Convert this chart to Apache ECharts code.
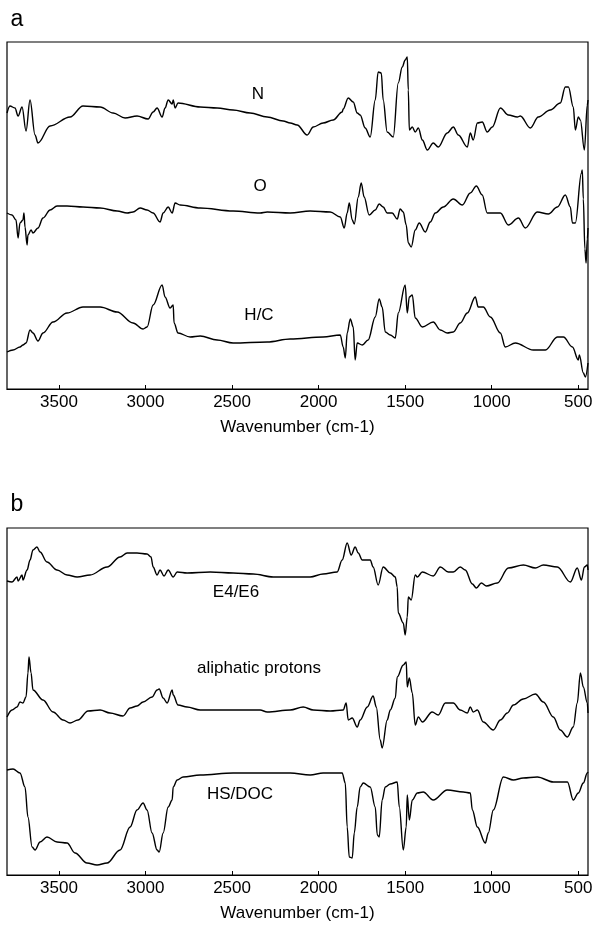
<!DOCTYPE html>
<html>
<head>
<meta charset="utf-8">
<title>FTIR spectra</title>
<script src="https://cdn.jsdelivr.net/npm/echarts@6/dist/echarts.min.js"></script>
<style>
  html, body { margin: 0; padding: 0; background: #fff; }
  #chart { width: 595px; height: 928px; }
</style>
</head>
<body>
<div id="chart"></div>
<script>
// tick labels on the wavenumber axis
const tickValues = [3500, 3000, 2500, 2000, 1500, 1000, 500]

// panel a, [wavenumber, intensity a.u.]
const nCurve = [[3800,276],[3783,283],[3754,281],[3736,273],[3713,282],[3690,258],[3667,289],[3638,254],[3621,246],[3551,263],[3436,272],[3361,283],[3262,282],[3187,276],[3118,271],[3049,273],[2985,270],[2956,277],[2933,281],[2904,272],[2887,281],[2869,289],[2846,285],[2840,289],[2829,281],[2812,286],[2684,282],[2586,281],[2494,279],[2395,276],[2297,272],[2205,268],[2164,266],[2124,264],[2066,254],[2031,262],[1974,266],[1916,269],[1864,277],[1858,280],[1829,291],[1800,287],[1777,276],[1760,274],[1731,261],[1702,252],[1673,289],[1656,317],[1638,316],[1627,289],[1604,257],[1569,252],[1540,306],[1517,322],[1500,329],[1488,332],[1482,299],[1476,259],[1459,262],[1442,257],[1424,261],[1401,249],[1372,239],[1338,246],[1309,242],[1257,256],[1222,262],[1193,254],[1141,242],[1124,256],[1107,249],[1083,266],[1055,267],[1026,257],[997,262],[950,281],[904,274],[852,272],[835,273],[777,261],[731,272],[662,279],[604,286],[575,302],[557,302],[529,282],[517,259],[500,272],[488,269],[465,239],[448,284],[444,289]]

const oCurve = [[3800,176],[3771,174],[3748,169],[3736,151],[3725,166],[3708,169],[3702,176],[3696,162],[3684,144],[3679,154],[3661,159],[3650,156],[3621,161],[3592,171],[3551,179],[3511,183],[3453,183],[3361,182],[3262,181],[3164,178],[3106,176],[3072,177],[3031,181],[2991,179],[2956,176],[2916,167],[2898,176],[2869,182],[2846,176],[2829,186],[2800,184],[2684,181],[2494,178],[2338,176],[2297,177],[2164,176],[2049,178],[1933,177],[1875,172],[1852,161],[1835,176],[1823,186],[1806,169],[1794,165],[1771,192],[1754,206],[1737,192],[1708,174],[1673,179],[1650,185],[1627,182],[1604,176],[1575,176],[1546,170],[1529,180],[1511,177],[1494,164],[1482,146],[1465,142],[1442,159],[1419,166],[1384,157],[1355,167],[1326,176],[1280,182],[1222,190],[1170,184],[1124,196],[1089,203],[1055,194],[1026,176],[950,176],[904,164],[846,171],[806,161],[737,177],[673,175],[621,182],[575,194],[546,182],[534,166],[517,166],[482,216],[477,219],[471,190],[462,140],[455,126],[448,150],[444,161]]

const hcCurve = [[3800,37],[3765,39],[3725,42],[3708,44],[3690,46],[3667,59],[3650,56],[3621,48],[3592,56],[3534,67],[3453,76],[3361,82],[3262,82],[3164,77],[3072,66],[3014,60],[2991,62],[2956,84],[2904,104],[2887,92],[2858,81],[2840,84],[2835,66],[2812,56],[2742,52],[2684,53],[2586,49],[2494,46],[2297,47],[2164,50],[1974,52],[1875,54],[1858,42],[1846,31],[1835,56],[1817,70],[1800,62],[1789,29],[1777,46],[1748,44],[1714,49],[1673,72],[1650,90],[1633,82],[1615,57],[1586,54],[1557,51],[1540,76],[1500,104],[1488,76],[1476,92],[1459,94],[1442,71],[1401,62],[1338,67],[1297,59],[1257,56],[1222,57],[1182,66],[1141,76],[1095,92],[1078,82],[1049,82],[1008,72],[950,56],[922,42],[864,46],[760,39],[690,39],[621,52],[586,52],[534,42],[500,29],[494,34],[471,16],[459,12],[444,26]]

// panel b
const e4Curve = [[3800,294],[3771,293],[3742,298],[3736,294],[3713,300],[3708,295],[3684,305],[3667,315],[3650,325],[3627,328],[3609,323],[3569,313],[3511,305],[3453,300],[3395,298],[3320,300],[3222,308],[3147,318],[3106,322],[3049,322],[2991,321],[2968,318],[2956,308],[2933,300],[2916,305],[2893,299],[2869,305],[2840,298],[2817,303],[2760,302],[2626,303],[2494,302],[2378,301],[2262,298],[2164,298],[2049,298],[1974,301],[1893,303],[1864,315],[1835,332],[1812,320],[1789,328],[1771,322],[1748,315],[1702,315],[1685,308],[1656,290],[1627,308],[1586,302],[1557,298],[1546,288],[1540,262],[1511,252],[1500,240],[1488,258],[1482,278],[1465,275],[1442,300],[1430,298],[1401,303],[1338,299],[1297,308],[1251,303],[1222,303],[1182,308],[1153,305],[1112,291],[1089,287],[1060,292],[1031,289],[968,292],[904,307],[817,310],[748,307],[702,310],[621,308],[546,293],[506,307],[482,295],[465,308],[448,310],[444,305]]

const aliphCurve = [[3800,158],[3771,165],[3742,168],[3725,173],[3708,172],[3690,178],[3679,202],[3673,218],[3661,202],[3650,185],[3592,175],[3534,163],[3476,155],[3436,152],[3390,155],[3332,164],[3262,165],[3205,162],[3130,159],[3089,167],[3049,169],[3014,173],[2962,178],[2933,185],[2921,186],[2898,177],[2875,172],[2846,185],[2840,180],[2812,170],[2760,168],[2684,165],[2494,165],[2338,165],[2297,163],[2164,165],[2089,168],[2031,165],[1933,164],[1858,165],[1841,172],[1829,155],[1806,157],[1777,148],[1760,155],[1719,168],[1685,179],[1667,168],[1644,135],[1633,127],[1604,155],[1586,165],[1557,177],[1546,198],[1511,210],[1494,213],[1488,188],[1476,197],[1459,182],[1442,150],[1424,158],[1401,153],[1344,163],[1309,160],[1268,172],[1222,172],[1182,165],[1141,162],[1124,168],[1107,163],[1083,165],[1049,153],[991,145],[950,155],[910,162],[875,170],[818,176],[748,181],[702,173],[644,158],[604,145],[563,138],[529,148],[506,172],[488,202],[471,188],[448,172],[444,162]]

const hsCurve = [[3800,105],[3765,106],[3725,102],[3696,88],[3679,58],[3655,28],[3638,25],[3609,33],[3569,38],[3511,33],[3453,32],[3407,22],[3338,12],[3280,10],[3222,12],[3147,25],[3089,48],[3049,65],[3014,72],[2991,65],[2962,42],[2933,25],[2921,23],[2898,42],[2869,68],[2846,75],[2840,88],[2817,95],[2783,98],[2684,100],[2494,102],[2297,102],[2164,102],[2049,100],[1974,102],[1864,102],[1846,92],[1835,48],[1823,18],[1806,17],[1794,42],[1777,68],[1760,88],[1742,92],[1702,88],[1673,68],[1661,40],[1650,38],[1633,75],[1615,88],[1586,91],[1546,93],[1534,68],[1511,25],[1494,48],[1488,80],[1476,55],[1459,75],[1430,82],[1396,83],[1338,75],[1257,85],[1164,83],[1124,82],[1112,65],[1083,48],[1037,32],[1020,42],[991,65],[933,98],[875,95],[818,97],[737,98],[644,93],[563,93],[529,75],[500,82],[471,92],[448,102],[444,103]]

const FONT = 'Liberation Sans, Arial, sans-serif'
const INK = '#000'

function makeXAxis (gridIndex) {
  return {
    gridIndex,
    type: 'value',
    inverse: true,
    min: 444,
    max: 3800,
    name: 'Wavenumber (cm-1)',
    nameLocation: 'middle',
    nameGap: 30,
    nameTextStyle: { fontSize: 17, color: INK, fontFamily: FONT },
    axisLine: { show: true, lineStyle: { color: INK, width: 1.2 } },
    axisTick: { show: true, inside: true, length: 4, customValues: tickValues, lineStyle: { color: INK } },
    axisLabel: {
      customValues: tickValues,
      fontSize: 17,
      margin: 5,
      color: INK,
      fontFamily: FONT,
      formatter: v => String(v)
    },
    splitLine: { show: false }
  }
}

function makeYAxis (gridIndex) {
  return { gridIndex, type: 'value', min: 0, max: 347, show: false }
}

function line (name, data, idx) {
  return {
    name,
    type: 'line',
    xAxisIndex: idx,
    yAxisIndex: idx,
    data,
    showSymbol: false,
    smooth: 0.35,
    smoothMonotone: 'x',
    lineStyle: { color: INK, width: 1.4 },
    silent: true
  }
}

function label (text, x, y, size) {
  return {
    type: 'text',
    x,
    y,
    style: { text, fill: INK, font: `${size || 17}px ${FONT}`, textAlign: 'center', textVerticalAlign: 'middle' }
  }
}

const myChart = echarts.init(document.getElementById('chart'))
myChart.setOption({
  animation: false,
  backgroundColor: '#fff',
  grid: [
    { left: 7, top: 42, width: 581, height: 347, outerBoundsMode: 'none', containLabel: false, show: true, borderColor: INK, borderWidth: 1.2 },
    { left: 7, top: 528, width: 581, height: 347, outerBoundsMode: 'none', containLabel: false, show: true, borderColor: INK, borderWidth: 1.2 }
  ],
  xAxis: [makeXAxis(0), makeXAxis(1)],
  yAxis: [makeYAxis(0), makeYAxis(1)],
  series: [
    line('N', nCurve, 0),
    line('O', oCurve, 0),
    line('H/C', hcCurve, 0),
    line('E4/E6', e4Curve, 1),
    line('aliphatic protons', aliphCurve, 1),
    line('HS/DOC', hsCurve, 1)
  ],
  graphic: [
    label('a', 17, 20, 23),
    label('b', 17, 505, 23),
    label('N', 258, 94),
    label('O', 260, 186),
    label('H/C', 259, 315),
    label('E4/E6', 236, 592),
    label('aliphatic protons', 259, 668),
    label('HS/DOC', 240, 794)
  ]
})
</script>
</body>
</html>
